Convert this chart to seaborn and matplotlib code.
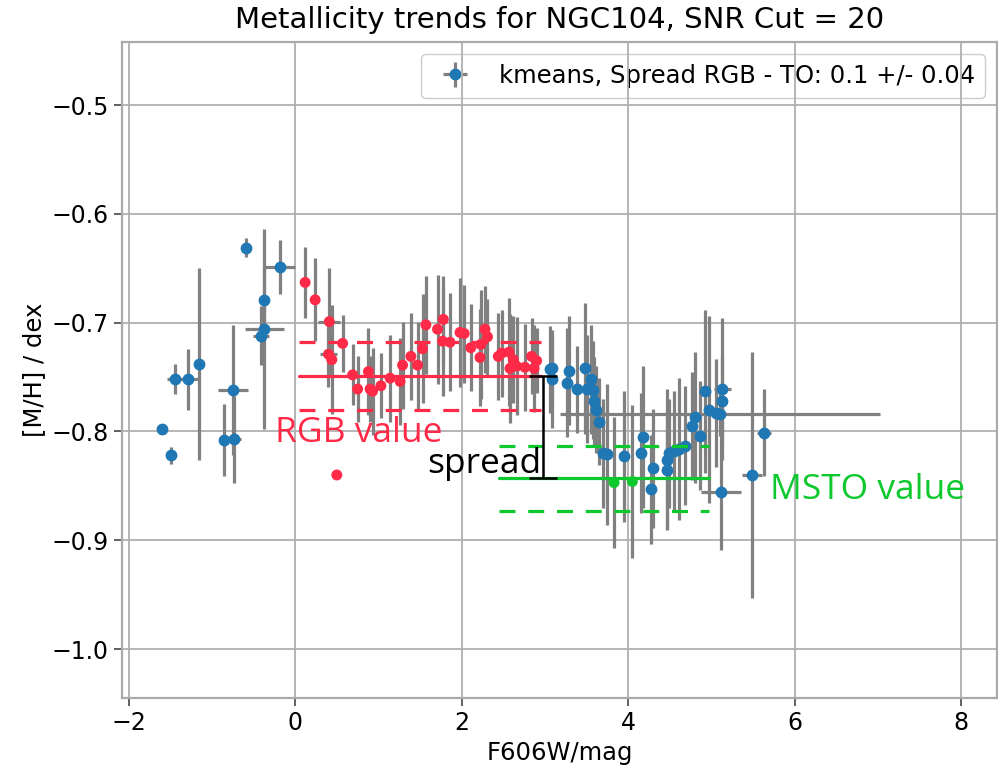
import matplotlib
matplotlib.use("Agg")
import matplotlib.pyplot as plt
import numpy as np
import pandas as pd
import seaborn as sns

# ---- kmeans bins outside the fitted regions (blue) ----
out_mag = [-1.60, -1.49, -1.44, -1.29, -1.16, -0.86, -0.75, -0.73, -0.59, -0.37, -0.37, -0.41, -0.18,
           3.06, 3.09, 3.08, 3.29, 3.27, 3.38, 3.48, 3.50, 3.55, 3.58, 3.59, 3.61, 3.65, 3.70, 3.74,
           3.95, 4.15, 4.18, 4.30, 4.28, 4.47, 4.47, 4.49, 4.55, 4.61, 4.68, 4.77, 4.86, 4.80, 4.92,
           5.13, 5.13, 4.97, 5.06, 5.10, 5.11, 5.49, 5.63]
out_mh = [-0.798, -0.822, -0.752, -0.752, -0.738, -0.808, -0.762, -0.807, -0.631, -0.679, -0.706, -0.712, -0.649,
          -0.743, -0.742, -0.752, -0.744, -0.755, -0.761, -0.742, -0.761, -0.752, -0.762, -0.772, -0.780, -0.791, -0.820, -0.821,
          -0.823, -0.820, -0.805, -0.834, -0.853, -0.835, -0.826, -0.820, -0.818, -0.816, -0.813, -0.795, -0.804, -0.787, -0.763,
          -0.761, -0.772, -0.780, -0.783, -0.784, -0.856, -0.840, -0.801]
out_mag_err = [0.00, 0.02, 0.10, 0.12, 0.02, 0.06, 0.18, 0.08, 0.01, 0.01, 0.23, 0.10, 0.18,
               0.04, 0.05, 0.03, 0.04, 0.03, 0.05, 0.04, 0.03, 0.05, 0.04, 0.03, 0.05, 0.04, 0.03, 0.04,
               0.04, 0.03, 0.05, 0.04, 0.03, 0.04, 0.05, 0.03, 0.04, 0.03, 0.04, 0.05, 0.04, 0.03, 0.04,
               0.10, 0.06, 0.04, 0.05, 1.92, 0.24, 0.12, 0.08]
out_mh_err = [0.003, 0.008, 0.014, 0.028, 0.088, 0.033, 0.060, 0.040, 0.009, 0.030, 0.092, 0.027, 0.025,
              0.040, 0.030, 0.045, 0.050, 0.050, 0.040, 0.060, 0.050, 0.050, 0.045, 0.040, 0.040, 0.040, 0.050, 0.065,
              0.060, 0.055, 0.065, 0.055, 0.050, 0.055, 0.065, 0.050, 0.055, 0.065, 0.055, 0.050, 0.050, 0.060, 0.075,
              0.065, 0.040, 0.086, 0.050, 0.020, 0.053, 0.113, 0.040]

# ---- red giant branch bins (red) ----
rgb_mag = [0.12, 0.24, 0.41, 0.57, 0.40, 0.44, 0.69, 0.75, 0.88, 0.90, 0.93, 1.03, 1.14, 1.26, 1.29,
           1.39, 1.47, 1.53, 1.57, 1.71, 1.78, 1.77, 1.86, 1.98, 2.03, 2.11, 2.22, 2.23, 2.28, 2.31,
           2.44, 2.48, 2.57, 2.58, 2.62, 2.66, 2.76, 2.84, 2.87, 2.90, 0.50]
rgb_mh = [-0.663, -0.679, -0.699, -0.719, -0.729, -0.734, -0.748, -0.761, -0.745, -0.761, -0.763, -0.758, -0.751, -0.754, -0.739,
          -0.731, -0.739, -0.724, -0.702, -0.706, -0.697, -0.717, -0.718, -0.709, -0.710, -0.723, -0.732, -0.720, -0.706, -0.713,
          -0.731, -0.728, -0.727, -0.742, -0.734, -0.740, -0.741, -0.731, -0.742, -0.735, -0.840]
rgb_mag_err = [0.02, 0.03, 0.13, 0.04, 0.10, 0.03, 0.03, 0.02, 0.03, 0.02, 0.03, 0.02, 0.03, 0.02, 0.03,
               0.02, 0.03, 0.02, 0.03, 0.02, 0.03, 0.02, 0.03, 0.02, 0.03, 0.02, 0.03, 0.02, 0.03, 0.02,
               0.03, 0.02, 0.03, 0.02, 0.03, 0.02, 0.03, 0.02, 0.03, 0.02, 0.00]
rgb_mh_err = [0.033, 0.038, 0.049, 0.026, 0.030, 0.050, 0.028, 0.030, 0.040, 0.030, 0.040, 0.030, 0.040, 0.040, 0.040,
              0.040, 0.040, 0.050, 0.045, 0.050, 0.040, 0.050, 0.045, 0.050, 0.045, 0.040, 0.045, 0.050, 0.040, 0.035,
              0.040, 0.040, 0.050, 0.050, 0.040, 0.045, 0.040, 0.035, 0.040, 0.030, 0.000]

# ---- main-sequence turn-off bins (green) ----
msto_mag = [3.83, 4.05]
msto_mh = [-0.847, -0.846]
msto_mag_err = [0.03, 0.03]
msto_mh_err = [0.060, 0.070]

# ---- fitted levels ----
rgb_value, rgb_std = -0.749, 0.031
rgb_range = [0.05, 2.95]
msto_value, msto_std = -0.843, 0.030
msto_range = [2.45, 4.97]
spread_mag = 2.98

legend_label = "kmeans, Spread RGB - TO: 0.1 +/- 0.04"
title = "Metallicity trends for NGC104, SNR Cut = 20"

RED = "#ff2a48"
GREEN = "#0dc92e"
BLUE = "#1f77b4"
GREY = "grey"

sns.set_theme(style="whitegrid")
plt.rcParams["font.family"] = ["DejaVu Sans"]
plt.rcParams["text.color"] = "black"

fig = plt.figure(figsize=(9.98, 7.76), dpi=100)
ax = fig.add_axes([122 / 998, 78 / 776, 875 / 998, 656 / 776])

err_kw = dict(ecolor=GREY, elinewidth=2.3, capsize=0, zorder=2)

cont = ax.errorbar(out_mag, out_mh, xerr=out_mag_err, yerr=out_mh_err, fmt="o",
                   color=BLUE, ms=7.5, label=legend_label, **err_kw)
ax.errorbar(rgb_mag, rgb_mh, xerr=rgb_mag_err, yerr=rgb_mh_err, fmt="none", **err_kw)
ax.errorbar(msto_mag, msto_mh, xerr=msto_mag_err, yerr=msto_mh_err, fmt="none", **err_kw)

rgb_df = pd.DataFrame({"mag": rgb_mag, "mh": rgb_mh})
msto_df = pd.DataFrame({"mag": msto_mag, "mh": msto_mh})
sns.scatterplot(data=rgb_df, x="mag", y="mh", ax=ax, color=RED, s=62, edgecolor="none", zorder=3, legend=False)
sns.scatterplot(data=msto_df, x="mag", y="mh", ax=ax, color=GREEN, s=62, edgecolor="none", zorder=3, legend=False)

# RGB level with its +/- band
ax.plot(rgb_range, [rgb_value, rgb_value], color=RED, lw=2.3, zorder=4)
for s in (-1, 1):
    ax.plot(rgb_range, [rgb_value + s * rgb_std] * 2, color=RED, lw=2.3, zorder=4,
            linestyle=(0, (5, 4)))
# MSTO level with its +/- band
ax.plot(msto_range, [msto_value, msto_value], color=GREEN, lw=2.3, zorder=4)
for s in (-1, 1):
    ax.plot(msto_range, [msto_value + s * msto_std] * 2, color=GREEN, lw=2.3, zorder=4,
            linestyle=(0, (5, 4)))

# spread between the two levels
ax.errorbar([spread_mag], [(rgb_value + msto_value) / 2], yerr=[(rgb_value - msto_value) / 2],
            fmt="none", ecolor="black", elinewidth=1.8, capsize=10, capthick=1.8, zorder=5)

ann_font = ["Open Sans", "DejaVu Sans"]
ax.text(-0.24, -0.810, "RGB value", color=RED, fontsize=25.5, family=ann_font, zorder=6)
ax.text(1.58, -0.838, "spread", color="black", fontsize=25.5, family=ann_font, zorder=6)
ax.text(5.70, -0.862, "MSTO value", color=GREEN, fontsize=25.5, family=ann_font, zorder=6)

ax.set_xlim(-2.08, 8.43)
ax.set_ylim(-1.045, -0.442)
ax.set_xticks([-2, 0, 2, 4, 6, 8])
ax.set_yticks([-1.0, -0.9, -0.8, -0.7, -0.6, -0.5])

ax.grid(True, color="#b0b0b0", lw=1.3)
ax.set_axisbelow(True)
for sp in ax.spines.values():
    sp.set_color("#aaaaaa")
    sp.set_linewidth(1.6)
ax.tick_params(axis="both", which="major", direction="out", length=6, width=1.3,
               color="#555555", labelsize=17, left=True, bottom=True, labelcolor="black")

ax.set_xlabel("F606W/mag", fontsize=17.5, color="black")
ax.set_ylabel("[M/H] / dex", fontsize=17.5, color="black")
ax.set_title(title, fontsize=21, color="black", pad=10)

leg = ax.legend(handles=[cont], labels=[legend_label], loc="upper right", fontsize=17.5,
                frameon=True, fancybox=True, edgecolor="#cccccc", facecolor="white",
                framealpha=1.0, borderaxespad=0.5, labelcolor="black")
leg.set_zorder(0.4)

fig.savefig("out.png", dpi=100)
